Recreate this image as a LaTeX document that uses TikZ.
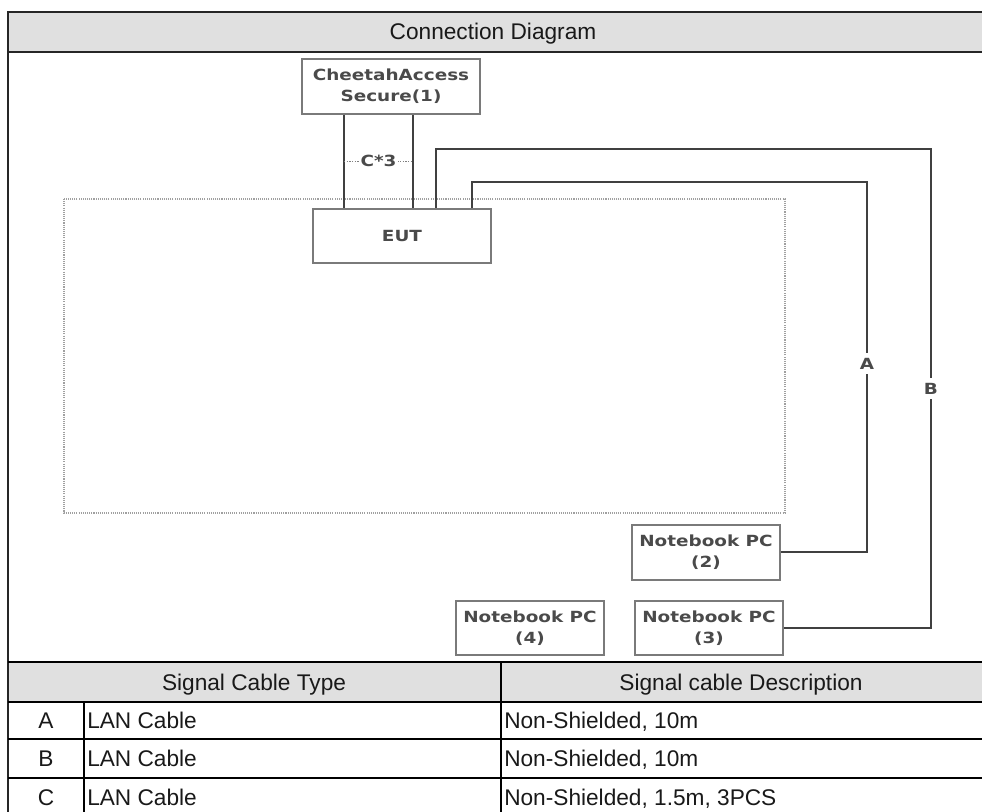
\documentclass[tikz,border=0pt]{standalone}
\usepackage{fontspec}
\setmainfont{Liberation Sans}
\newfontfamily\boxfont[FakeStretch=1.2]{DejaVu Sans}
\usetikzlibrary{calc}
\definecolor{hdr}{HTML}{E0E0E0}
\definecolor{boxtxt}{HTML}{4A4A4A}
\definecolor{boxline}{HTML}{7A7A7A}
\definecolor{cablec}{HTML}{404040}
\definecolor{dotc}{HTML}{A0A0A0}
\begin{document}
\begin{tikzpicture}[x=0.75pt,y=-0.75pt,
  dev/.style={draw=boxline, line width=1.5pt, fill=white,
    font=\boxfont\bfseries\fontsize{11.5}{16}\selectfont, text=boxtxt,
    align=center, inner sep=0pt},
  cable/.style={draw=cablec, line width=1.5pt},
  lbl/.style={font=\boxfont\bfseries\fontsize{11.5}{13}\selectfont, text=boxtxt,
    fill=white, inner xsep=1.5pt, inner ysep=4pt},
  frameline/.style={draw=black!85, line width=1.6pt},
  gridline/.style={draw=black, line width=1.1pt},
  cell/.style={font=\fontsize{17}{20}\selectfont, inner sep=0pt, text=black!90}
]
\useasboundingbox (0,0) rectangle (982,812);

% header fills
\fill[hdr] (8,12) rectangle (990,52);
\fill[hdr] (8,662) rectangle (990,702);

% frame and grid
\draw[frameline] (990,12) -- (8,12) -- (8,820);
\draw[frameline] (8,52) -- (990,52);
\draw[gridline] (8,662) -- (990,662);
\draw[gridline] (8,702) -- (990,702);
\draw[gridline] (8,739) -- (990,739);
\draw[gridline] (8,778) -- (990,778);
\draw[gridline] (501,662) -- (501,820);
\draw[gridline] (84,702) -- (84,820);

% table texts
\node[cell, anchor=base] (title) at (493,40) {Connection Diagram};
\node[cell, anchor=base] (h1) at (254,690) {Signal Cable Type};
\node[cell, anchor=base] (h2) at (741,690) {Signal cable Description};
\node[cell, anchor=base] (ra) at (46,728) {A};
\node[cell, anchor=base west] (ta) at (87,728) {LAN Cable};
\node[cell, anchor=base west] (da) at (504,728) {Non-Shielded, 10m};
\node[cell, anchor=base] (rb) at (46,766) {B};
\node[cell, anchor=base west] (tb) at (87,766) {LAN Cable};
\node[cell, anchor=base west] (db) at (504,766) {Non-Shielded, 10m};
\node[cell, anchor=base] (rc) at (46,805) {C};
\node[cell, anchor=base west] (tc) at (87,805) {LAN Cable};
\node[cell, anchor=base west] (dc) at (504,805) {Non-Shielded, 1.5m, 3PCS};

% dotted table area
\draw[draw=dotc, line width=1.5pt, dash pattern=on 0.8pt off 0.8pt] (64,199) rectangle (785,513);

% devices
\node[dev, minimum width=133.5pt, minimum height=41.25pt] (ch) at (391,86.5) {CheetahAccess\\Secure(1)};
\node[dev, minimum width=133.5pt, minimum height=40.5pt] (eut) at (402,236) {EUT};
\node[dev, minimum width=111pt, minimum height=41.25pt] (nb2) at (706,552.5) {Notebook PC\\(2)};
\node[dev, minimum width=111pt, minimum height=40.5pt] (nb3) at (709,628) {Notebook PC\\(3)};
\node[dev, minimum width=111pt, minimum height=40.5pt] (nb4) at (530,628) {Notebook PC\\(4)};

% helper coordinates
\coordinate (xc1) at (344,0);
\coordinate (xc2) at (413,0);
\coordinate (xb) at (436,0);
\coordinate (xa) at (472,0);
\coordinate (ya) at (0,182);
\coordinate (yb) at (0,149);
\coordinate (yc) at (0,161);
\coordinate (xA) at (867,0);
\coordinate (xB) at (931,0);

% C cables
\draw[cable] (ch.south -| xc1) -- (eut.north -| xc1);
\draw[cable] (ch.south -| xc2) -- (eut.north -| xc2);
\draw[draw=gray, line width=0.6pt, dash pattern=on 1pt off 1pt] (xc1 |- yc) -- node[lbl, inner ysep=1pt] {C*3} (xc2 |- yc);

% A cable
\draw[cable] (eut.north -| xa) |- (xA |- ya) -- node[lbl, pos=0.49] {A} (xA |- nb2.east) -- (nb2.east);
% B cable
\draw[cable] (eut.north -| xb) |- (xB |- yb) -- node[lbl, pos=0.5] {B} (xB |- nb3.east) -- (nb3.east);
\end{tikzpicture}
\end{document}
